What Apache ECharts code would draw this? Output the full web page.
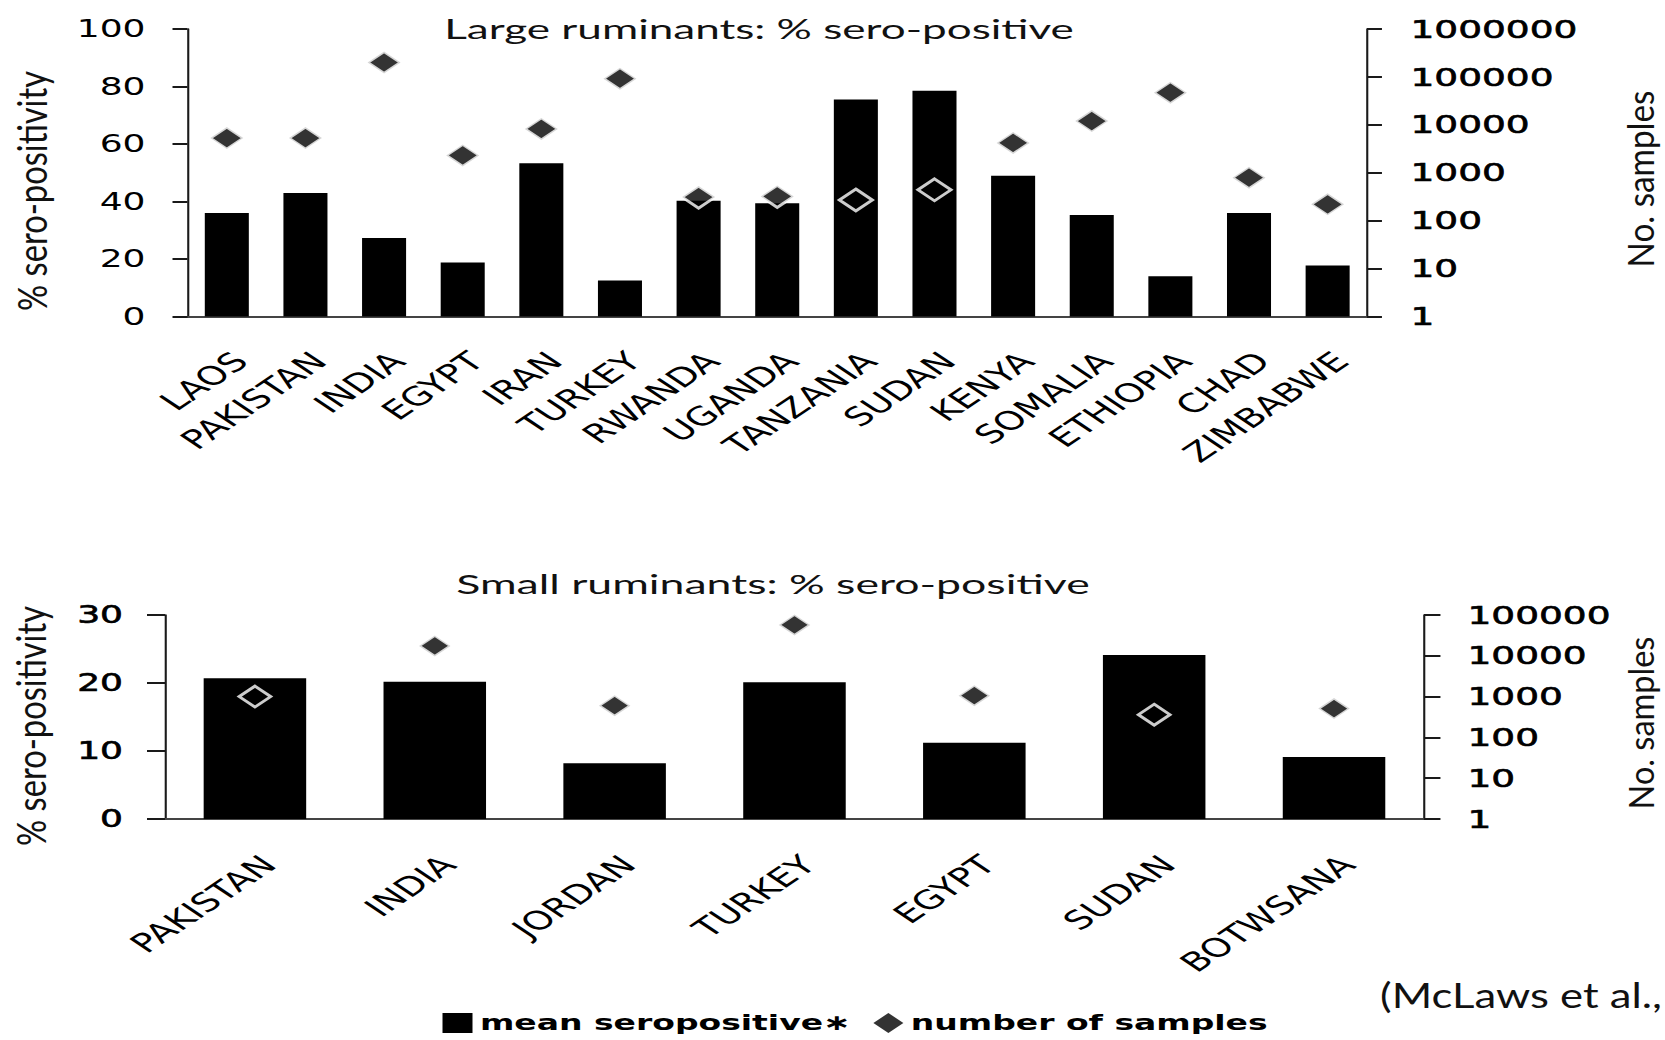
<!DOCTYPE html>
<html>
<head>
<meta charset="utf-8">
<script src="https://cdn.jsdelivr.net/npm/echarts@6/dist/echarts.min.js"></script>
<style>
html,body{margin:0;padding:0;background:#fff;overflow:hidden;}
#wrap{width:1665px;height:1040px;overflow:hidden;position:relative;background:#fff;}
#chart{width:1110px;height:1040px;transform:scaleX(1.5);transform-origin:0 0;}
</style>
</head>
<body>
<div id="wrap"><div id="chart"></div></div>
<script>
// ---------- data ----------
const largeCountries = ['LAOS','PAKISTAN','INDIA','EGYPT','IRAN','TURKEY','RWANDA','UGANDA','TANZANIA','SUDAN','KENYA','SOMALIA','ETHIOPIA','CHAD','ZIMBABWE'];
const largeSeroPositive = [36, 43, 27.3, 18.8, 53.3, 12.5, 40.3, 39.4, 75.5, 78.5, 49, 35.3, 14, 36, 17.7];
const largeSamples = [5300, 5300, 200000, 2300, 8200, 92000, 310, 320, 270, 440, 4200, 12000, 47000, 790, 220];

const smallCountries = ['PAKISTAN','INDIA','JORDAN','TURKEY','EGYPT','SUDAN','BOTWSANA'];
const smallSeroPositive = [20.7, 20.2, 8.2, 20.1, 11.2, 24.1, 9.1];
const smallSamples = [1000, 17500, 600, 57000, 1050, 360, 510];

const leftTicksLarge = {min: 0, max: 100, interval: 20};
const leftTicksSmall = {min: 0, max: 30, interval: 10};
const rightTicksLarge = {min: 1, max: 1000000};
const rightTicksSmall = {min: 1, max: 100000};

const titleLarge = 'Large ruminants: % sero-positive';
const titleSmall = 'Small ruminants: % sero-positive';
const yNameLeft = '% sero-positivity';
const yNameRight = 'No. samples';
const legendBar = 'mean seropositive\u2217';
const legendDot = 'number of samples';
const caption = '(McLaws et al.,';

// ---------- layout helpers ----------
const S = 1.5; // horizontal stretch of the page
const FONT = 'DejaVu Sans';
const HFONT = 'Lato';
const ctx = document.createElement('canvas').getContext('2d');
function measure(text, size, family, weight) {
  ctx.font = (weight || 'normal') + ' ' + size + 'px "' + family + '"';
  return ctx.measureText(text).width;
}

function hText(text, x, y, size, fullWidth) {
  const w = measure(text, size, HFONT);
  return {
    type: 'text', x: x, y: y, scaleX: fullWidth / (w * S), scaleY: 1, silent: true,
    style: {text: text, fontFamily: HFONT, fontSize: size, fill: '#111', align: 'center', verticalAlign: 'middle'}
  };
}
function vText(text, x, y, size, length, thick) {
  const w = measure(text, size, HFONT);
  return {
    type: 'text', x: x, y: y, rotation: Math.PI / 2, silent: true,
    scaleX: length / w, scaleY: thick / (0.92 * size * S),
    style: {text: text, fontFamily: HFONT, fontSize: size, fill: '#111', align: 'center', verticalAlign: 'middle'}
  };
}

const chart = echarts.init(document.getElementById('chart'), null, {renderer: 'svg'});

const yLine = {show: true, lineStyle: {color: '#1a1a1a', width: 1.4}};
const yTick = {show: true, length: 10, lineStyle: {color: '#1a1a1a', width: 2}};
const xLine = {show: true, onZero: false, lineStyle: {color: '#444', width: 2}};
const xLabel = (margin) => ({
  rotate: 45, interval: 0, margin: margin, align: 'right', verticalAlign: 'top',
  fontFamily: FONT, fontSize: 26, color: '#000'
});
const leftLabel = (heavy) => ({
  margin: 28, fontFamily: FONT, fontSize: 24, color: '#000',
  textBorderColor: heavy ? '#000' : 'transparent', textBorderWidth: heavy ? 0.6 : 0
});
const rightLabel = {
  margin: 29, fontFamily: FONT, fontSize: 25, color: '#000',
  textBorderColor: '#000', textBorderWidth: 0.6,
  formatter: v => String(Math.round(v))
};
const dotStyle = {color: '#000', borderColor: '#fff', borderWidth: 2.5};

const capW = measure(caption, 35, HFONT);

const option = {
  animation: false,
  backgroundColor: '#fff',
  grid: [
    {left: 125, right: 198.7, top: 29, height: 287.5, containLabel: false, outerBoundsMode: 'none'},
    {left: 110, right: 160.7, top: 615, height: 204, containLabel: false, outerBoundsMode: 'none'}
  ],
  xAxis: [
    {type: 'category', gridIndex: 0, data: largeCountries, axisLine: xLine, axisTick: {show: false}, axisLabel: xLabel(31), splitLine: {show: false}},
    {type: 'category', gridIndex: 1, data: smallCountries, axisLine: xLine, axisTick: {show: false}, axisLabel: xLabel(32), splitLine: {show: false}}
  ],
  yAxis: [
    {type: 'value', gridIndex: 0, position: 'left', min: leftTicksLarge.min, max: leftTicksLarge.max, interval: leftTicksLarge.interval,
      axisLine: yLine, axisTick: yTick, splitLine: {show: false}, axisLabel: leftLabel(false)},
    {type: 'log', logBase: 10, gridIndex: 0, position: 'right', min: rightTicksLarge.min, max: rightTicksLarge.max,
      axisLine: yLine, axisTick: yTick, splitLine: {show: false}, minorTick: {show: false}, axisLabel: rightLabel},
    {type: 'value', gridIndex: 1, position: 'left', min: leftTicksSmall.min, max: leftTicksSmall.max, interval: leftTicksSmall.interval,
      axisLine: yLine, axisTick: Object.assign({}, yTick, {length: 12}), splitLine: {show: false}, axisLabel: leftLabel(true)},
    {type: 'log', logBase: 10, gridIndex: 1, position: 'right', min: rightTicksSmall.min, max: rightTicksSmall.max,
      axisLine: yLine, axisTick: Object.assign({}, yTick, {length: 11}), splitLine: {show: false}, minorTick: {show: false}, axisLabel: rightLabel}
  ],
  legend: {
    left: 290, top: 1007, orient: 'horizontal', itemWidth: 20, itemHeight: 20, itemGap: 15, selectedMode: false,
    itemStyle: {borderWidth: 0},
    data: [{name: legendBar, icon: 'rect'}, {name: legendDot, icon: 'diamond'}],
    textStyle: {fontFamily: FONT, fontWeight: 'bold', fontSize: 22, color: '#000', lineHeight: 22}
  },
  series: [
    {type: 'bar', name: legendBar, xAxisIndex: 0, yAxisIndex: 0, data: largeSeroPositive, barWidth: '56%', itemStyle: {color: '#000'}},
    {type: 'scatter', name: legendDot, xAxisIndex: 0, yAxisIndex: 1, data: largeSamples, symbol: 'diamond', symbolSize: 22, itemStyle: dotStyle},
    {type: 'bar', name: legendBar, xAxisIndex: 1, yAxisIndex: 2, data: smallSeroPositive, barWidth: '57%', itemStyle: {color: '#000'}},
    {type: 'scatter', name: legendDot, xAxisIndex: 1, yAxisIndex: 3, data: smallSamples, symbol: 'diamond', symbolSize: 21, itemStyle: dotStyle}
  ],
  graphic: [
    hText(titleLarge, 506, 29, 27, 630),
    hText(titleSmall, 515.3, 584, 27, 634),
    vText(yNameLeft, 21.3, 191, 34, 240, 37),
    vText(yNameLeft, 20.5, 726, 34, 240, 37),
    vText(yNameRight, 1093, 179, 34, 177, 34),
    vText(yNameRight, 1093.5, 723, 34, 173, 32),
    {
      type: 'text', x: 920, y: 994, scaleX: 282 / (capW * S), silent: true,
      style: {text: caption, fontFamily: HFONT, fontSize: 35, fill: '#111', align: 'left', verticalAlign: 'middle'}
    }
  ]
};
chart.setOption(option);
</script>
</body>
</html>
